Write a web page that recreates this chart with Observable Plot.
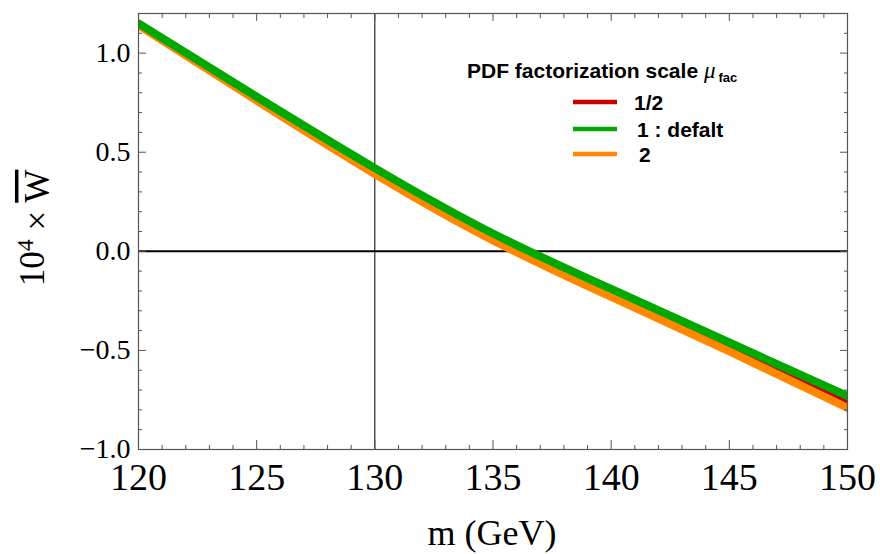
<!DOCTYPE html>
<html><head><meta charset="utf-8">
<script src="https://cdn.jsdelivr.net/npm/d3@7"></script>
<script src="https://cdn.jsdelivr.net/npm/@observablehq/plot@0.6"></script>
<style>body{margin:0;background:#fff} #c{width:880px;height:554px}</style>
</head><body><div id="c"></div>
<script>
// Data
const mass = [120, 125, 130, 135, 140, 145, 150];
const wHalf = [1.145, 0.77, 0.405, 0.072, -0.21, -0.48, -0.76];  // mu_fac = 1/2
const wOne  = [1.15, 0.78, 0.42, 0.09, -0.19, -0.46, -0.73];     // mu_fac = 1 (default)
const wTwo  = [1.14, 0.76, 0.39, 0.055, -0.23, -0.505, -0.79];   // mu_fac = 2
const seriesNames = ["1/2", "1 : defalt", "2"];
const seriesColors = ["#c80000", "#00a800", "#ff8800"];
const xMajor = [120, 125, 130, 135, 140, 145, 150];
const yMajor = [-1.0, -0.5, 0.0, 0.5, 1.0];
const xMinor = d3.range(120, 151, 1).filter(v => v % 5 !== 0);
const yMinor = d3.range(-10, 13, 1).filter(v => v % 5 !== 0).map(v => v / 10);

const rows = s => mass.map((m, i) => ({m, w: s[i]}));
const serif = "'Liberation Serif', 'Times New Roman', serif";
const tickColor = "#555";

const lineOpts = (c) => ({x: "m", y: "w", stroke: c, strokeWidth: 8, curve: "natural", clip: true});

const plot = Plot.plot({
  width: 880, height: 554,
  marginLeft: 138, marginRight: 33, marginTop: 13, marginBottom: 105,
  x: {domain: [120, 150], label: null},
  y: {domain: [-1, 1.2], label: null},
  style: {fontFamily: serif, background: "#fff", color: "#000"},
  marks: [
    Plot.ruleX([130], {stroke: "#000", strokeWidth: 1}),
    Plot.ruleY([0], {stroke: "#000", strokeWidth: 2}),
    Plot.line(rows(wHalf), lineOpts(seriesColors[0])),
    Plot.line(rows(wTwo), lineOpts(seriesColors[2])),
    Plot.line(rows(wOne), lineOpts(seriesColors[1])),
    Plot.frame({stroke: tickColor, strokeWidth: 1.2}),
    // inward ticks
    Plot.axisX(xMajor, {anchor: "bottom", tickSize: -9, fill: "none", stroke: tickColor, label: null}),
    Plot.axisX(xMinor, {anchor: "bottom", tickSize: -4, fill: "none", stroke: tickColor, label: null}),
    Plot.axisX(xMajor, {anchor: "top", tickSize: -7, fill: "none", stroke: tickColor, label: null}),
    Plot.axisX(xMinor, {anchor: "top", tickSize: -4, fill: "none", stroke: tickColor, label: null}),
    Plot.axisY(yMajor, {anchor: "left", tickSize: -8, fill: "none", stroke: tickColor, label: null}),
    Plot.axisY(yMinor, {anchor: "left", tickSize: -4, fill: "none", stroke: tickColor, label: null}),
    Plot.axisY(yMajor, {anchor: "right", tickSize: -8, fill: "none", stroke: tickColor, label: null}),
    Plot.axisY(yMinor, {anchor: "right", tickSize: -4, fill: "none", stroke: tickColor, label: null}),
    // tick labels
    Plot.axisX(xMajor, {anchor: "bottom", tickSize: 0, tickPadding: 14, fontSize: 38, tickFormat: d3.format("d"), label: null}),
    Plot.axisY(yMajor, {anchor: "left", tickSize: 0, tickPadding: 8, fontSize: 28, tickFormat: d3.format(".1f"), label: null})
  ]
});
document.getElementById("c").appendChild(plot);

const svg = d3.select(plot);
// axis titles
svg.append("text")
  .attr("x", 492).attr("y", 545)
  .attr("text-anchor", "middle")
  .style("font-family", serif).style("font-size", "36px")
  .text("m (GeV)");

const yl = svg.append("text")
  .attr("transform", "translate(44,228) rotate(-90)")
  .attr("text-anchor", "middle")
  .style("font-family", serif).style("font-size", "35px");
yl.append("tspan").text("10");
yl.append("tspan").attr("dy", "-0.45em").style("font-size", "24px").text("4");
yl.append("tspan").attr("dy", "0.45em").text(" \u00d7 ");
yl.append("tspan").style("text-decoration", "overline").text("W");

// legend
const sans = "'Liberation Sans', Arial, Helvetica, sans-serif";
const lt = svg.append("text")
  .attr("x", 467).attr("y", 78)
  .attr("text-anchor", "start")
  .style("font-family", sans).style("font-size", "21px").style("font-weight", "bold");
lt.append("tspan").text("PDF factorization scale ");
lt.append("tspan").style("font-family", serif).style("font-style", "italic").style("font-weight", "normal").style("font-size", "23px").text("\u03bc");
lt.append("tspan").attr("dx", "3").attr("dy", "4").style("font-size", "13px").text("fac");

const legY = [102, 129, 154];
const legTextX = [634, 637, 639];
seriesNames.forEach((name, i) => {
  svg.append("line")
    .attr("x1", 573).attr("x2", 617).attr("y1", legY[i]).attr("y2", legY[i])
    .attr("stroke", seriesColors[i]).attr("stroke-width", 4.5);
  svg.append("text")
    .attr("x", legTextX[i]).attr("y", legY[i] + 7.5)
    .attr("text-anchor", "start")
    .style("font-family", sans).style("font-size", "21px").style("font-weight", "bold")
    .text(name);
});
</script>
</body></html>
